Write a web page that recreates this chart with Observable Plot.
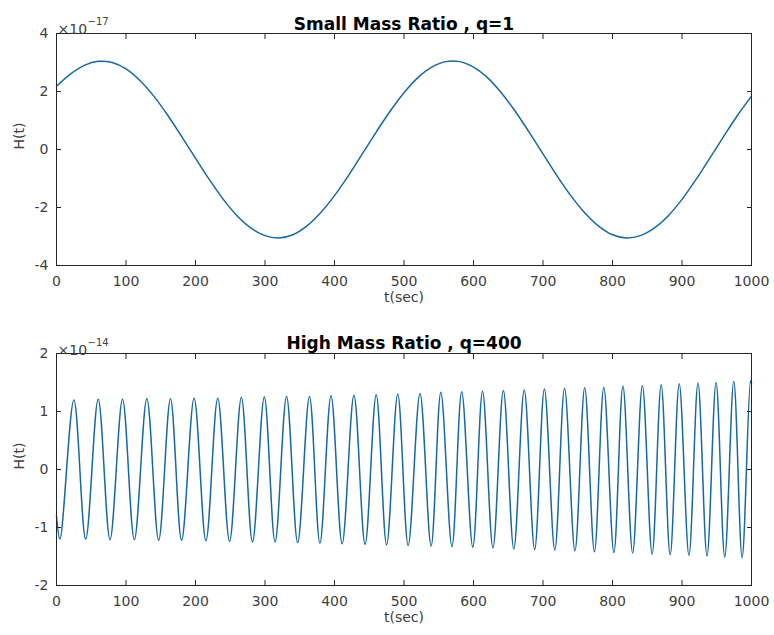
<!DOCTYPE html>
<html>
<head>
<meta charset="utf-8">
<script src="https://cdn.jsdelivr.net/npm/d3@7"></script>
<script src="https://cdn.jsdelivr.net/npm/@observablehq/plot@0.6"></script>
<style>
  body { margin: 0; background: #fff; }
  #chart { width: 774px; height: 635px; font-family: "DejaVu Sans", sans-serif; }
  #chart svg { display: block; }
</style>
</head>
<body>
<div id="chart"></div>
<script>
// Small mass ratio (q=1): time samples (s) and strain H(t) in units of 1e-17
const tTop = [0, 20, 40, 60, 80, 100, 120, 140, 160, 180, 200, 220, 240, 260, 280, 300,
  320, 340, 360, 380, 400, 420, 440, 460, 480, 500, 520, 540, 560, 580, 600, 620, 640,
  660, 680, 700, 720, 740, 760, 780, 800, 820, 840, 860, 880, 900, 920, 940, 960, 980, 1000];
const hTop = [2.18, 2.60, 2.90, 3.04, 3.00, 2.78, 2.38, 1.84, 1.18, 0.45, -0.30, -1.04,
  -1.72, -2.29, -2.71, -2.97, -3.05, -2.94, -2.64, -2.18, -1.59, -0.90, -0.15, 0.60, 1.32,
  1.96, 2.48, 2.84, 3.03, 3.03, 2.84, 2.48, 1.96, 1.32, 0.60, -0.15, -0.90, -1.59, -2.18,
  -2.64, -2.94, -3.05, -2.97, -2.71, -2.29, -1.72, -1.04, -0.30, 0.45, 1.18, 1.84];

// High mass ratio (q=400): turning points of the chirp, H(t) in units of 1e-14
const tBottom = [0, 5, 25, 42, 60, 77, 95, 112, 130, 147, 164, 180, 198, 215, 232, 249,
  266, 282, 299, 314.5, 331, 347, 364, 379, 395, 411, 428, 444, 460, 475, 491, 506, 523,
  539, 553, 569, 583, 599, 613, 628, 643, 658, 673, 688, 702, 717, 731, 746, 760, 774,
  787.5, 802, 815, 829, 843, 857, 870, 883, 896, 910, 923, 936, 949, 961.5, 974.5, 986.5,
  998.6, 1000];
const hBottom = [-0.80, -1.20, 1.20, -1.20, 1.21, -1.21, 1.21, -1.21, 1.22, -1.22, 1.22,
  -1.22, 1.23, -1.23, 1.23, -1.24, 1.24, -1.25, 1.25, -1.25, 1.26, -1.26, 1.26, -1.27,
  1.27, -1.28, 1.28, -1.29, 1.29, -1.30, 1.30, -1.31, 1.31, -1.32, 1.33, -1.33, 1.34,
  -1.34, 1.35, -1.35, 1.36, -1.37, 1.37, -1.38, 1.39, -1.39, 1.40, -1.40, 1.41, -1.42,
  1.42, -1.43, 1.44, -1.44, 1.45, -1.46, 1.46, -1.47, 1.48, -1.48, 1.49, -1.49, 1.50,
  -1.51, 1.52, -1.52, 1.53, 1.48];

const xTicks = [0, 100, 200, 300, 400, 500, 600, 700, 800, 900, 1000];
const yTicksTop = [-4, -2, 0, 2, 4];
const yTicksBottom = [-2, -1, 0, 1, 2];
const titles = ["Small Mass Ratio , q=1", "High Mass Ratio , q=400"];
const exponentBase = "×10";
const exponents = ["−17", "−14"];
const xLabel = "t(sec)";
const yLabel = "H(t)";

const lineColor = "#1769a0";
const axisColor = "#262626";
const textColor = "#404040";

function panel({t, h, yDomain, yTicks, title, exponent, height, marginTop, marginBottom, titleDy, expDy}) {
  const data = t.map((d, i) => ({t: d, h: h[i]}));
  const fmt = d => String(d);
  const blank = () => "";
  return Plot.plot({
    width: 774,
    height,
    marginTop,
    marginBottom,
    marginLeft: 56,
    marginRight: 23,
    style: {fontFamily: "DejaVu Sans, sans-serif", fontSize: "14px", color: textColor, background: "#fff"},
    x: {domain: [0, 1000]},
    y: {domain: yDomain},
    marks: [
      Plot.line(data, {x: "t", y: "h", stroke: lineColor, strokeWidth: 1.5, curve: "catmull-rom"}),
      Plot.frame({stroke: axisColor, strokeWidth: 1}),
      Plot.axisX(xTicks, {anchor: "bottom", tickSize: -5, tickPadding: 16, tickFormat: fmt, label: null, stroke: axisColor, fill: textColor, fontSize: 14}),
      Plot.axisX(xTicks, {anchor: "top", tickSize: -5, tickFormat: blank, label: null, stroke: axisColor}),
      Plot.axisY(yTicks, {anchor: "left", tickSize: -5, tickPadding: 13, tickFormat: fmt, label: null, stroke: axisColor, fill: textColor, fontSize: 14}),
      Plot.axisY(yTicks, {anchor: "right", tickSize: -5, tickFormat: blank, label: null, stroke: axisColor}),
      Plot.text([title], {text: d => d, frameAnchor: "top", dy: titleDy, fontWeight: "bold", fontSize: 17, fill: "#000"}),
      Plot.text([exponentBase], {text: d => d, frameAnchor: "top-left", textAnchor: "start", dx: 1, dy: expDy, fontSize: 14, fill: textColor}),
      Plot.text([exponent], {text: d => d, frameAnchor: "top-left", textAnchor: "start", dx: 31, dy: expDy - 7, fontSize: 10, fill: textColor}),
      Plot.text([xLabel], {text: d => d, frameAnchor: "bottom", dy: 36, fontSize: 14, fill: textColor}),
      Plot.text([yLabel], {text: d => d, frameAnchor: "left", dx: -37, rotate: -90, fontSize: 14, fill: textColor})
    ]
  });
}

const chart = document.getElementById("chart");
chart.append(panel({
  t: tTop, h: hTop, yDomain: [-4, 4], yTicks: yTicksTop,
  title: titles[0], exponent: exponents[0], height: 317, marginTop: 33, marginBottom: 52,
  titleDy: -16, expDy: -9
}));
chart.append(panel({
  t: tBottom, h: hBottom, yDomain: [-2, 2], yTicks: yTicksBottom,
  title: titles[1], exponent: exponents[1], height: 318, marginTop: 36, marginBottom: 50,
  titleDy: -17, expDy: -8
}));
</script>
</body>
</html>
